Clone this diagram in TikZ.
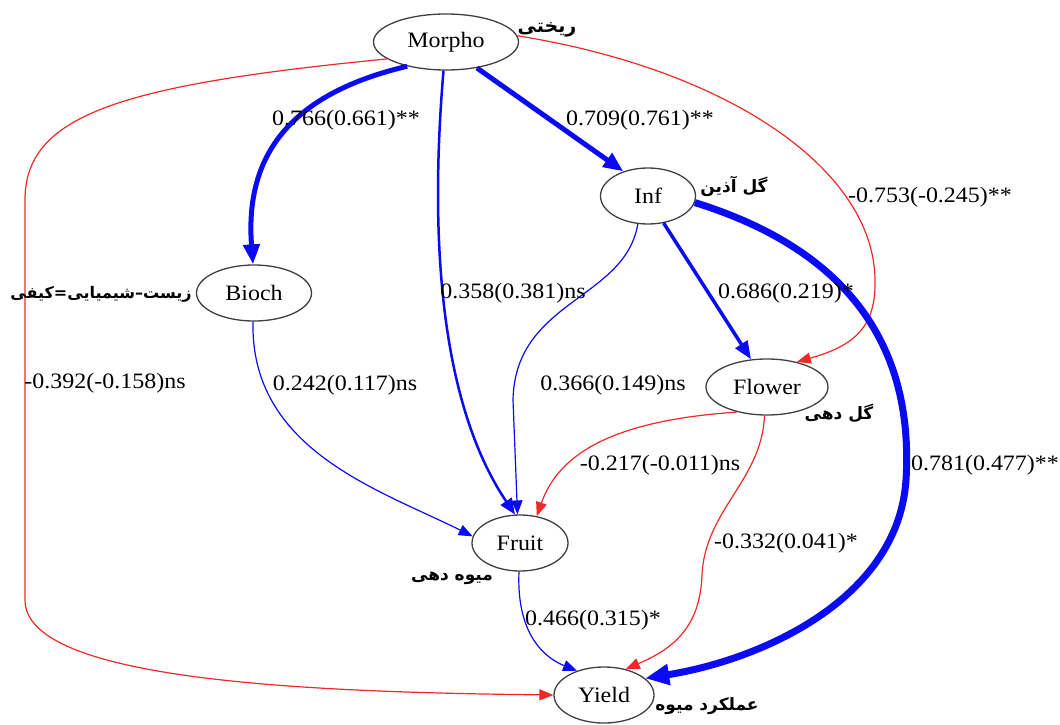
\documentclass[tikz,border=0pt]{standalone}
\usepackage{fontspec}
\setmainfont[FakeStretch=1.09]{Liberation Serif}
\newfontfamily\fafont[Script=Arabic]{DejaVu Sans}
\TeXXeTstate=1
\usetikzlibrary{shapes.geometric,arrows.meta}
\definecolor{eblue}{RGB}{10,10,245}
\definecolor{ered}{RGB}{240,40,40}
\tikzset{
  nd/.style={ellipse, draw=black!75, line width=1.3pt, fill=white, inner sep=0pt, minimum height=56pt, font=\fontsize{22}{26}\selectfont},
  lbl/.style={font=\fontsize{22}{26}\selectfont, inner sep=0pt},
  fa/.style={font=\fafont\bfseries\fontsize{17}{20}\selectfont, inner sep=0pt},
  bthin/.style={draw=eblue, line width=1.2pt, -{Triangle[length=14pt,width=11pt]}, color=eblue},
  bmed/.style={draw=eblue, line width=2.5pt, -{Triangle[length=16pt,width=13pt]}, color=eblue},
  bmed2/.style={draw=eblue, line width=3.5pt, -{Triangle[length=18pt,width=14pt]}, color=eblue},
  bthick/.style={draw=eblue, line width=5pt, -{Triangle[length=20pt,width=16pt]}, color=eblue},
  bvthick/.style={draw=eblue, line width=7pt, -{Triangle[length=24pt,width=20pt]}, color=eblue},
  rthin/.style={draw=ered, line width=1.2pt, -{Triangle[length=14pt,width=11pt]}, color=ered},
}
\begin{document}
\begin{tikzpicture}[x=1pt,y=-1pt]
\useasboundingbox (0,0) rectangle (1060,725);
% nodes
\node[nd, minimum width=145pt] (m) at (446,42) {Morpho};
\node[nd, minimum width=95pt] (i) at (648,196) {Inf};
\node[nd, minimum width=115pt] (b) at (254,293) {Bioch};
\node[nd, minimum width=122pt] (fl) at (767,387) {Flower};
\node[nd, minimum width=96pt] (f) at (520,543) {Fruit};
\node[nd, minimum width=100pt] (y) at (604,695) {Yield};
% edges
\draw[bthick] (m.212) .. controls (285,95) and (245,160) .. (b.92);
\draw[bmed] (m.265) .. controls (430,230) and (438,400) .. (f.100);
\draw[bthick] (m.-40) -- (i.135);
\draw[rthin] (m.5) .. controls (730,70) and (874,170) .. (875,280) .. controls (876,325) and (857,345) .. (fl.40);
\draw[rthin] (m.196) .. controls (120,85) and (25,115) .. (25,200) -- (25,600) .. controls (25,680) and (300,692) .. (y.180);
\draw[bmed2] (i.-60) -- (fl.120);
\draw[bthin] (i.250) .. controls (625,300) and (515,300) .. (513,400) -- (f.95);
\draw[bvthick] (i.-8) .. controls (880,260) and (912,380) .. (906,480) .. controls (898,600) and (760,660) .. (y.22);
\draw[bthin] (b.268) .. controls (250,450) and (380,490) .. (f.172);
\draw[rthin] (fl.220) .. controls (620,420) and (560,450) .. (f.58);
\draw[rthin] (fl.265) .. controls (762,480) and (705,510) .. (702,575) .. controls (700,630) and (670,650) .. (y.50);
\draw[bthin] (f.268) .. controls (516,640) and (550,660) .. (y.138);
% edge labels
\node[lbl] (l1) at (346,120) {0.766(0.661)**};
\node[lbl] (l2) at (513,293) {0.358(0.381)ns};
\node[lbl] (l3) at (640,120) {0.709(0.761)**};
\node[lbl] (l4) at (930,197) {-0.753(-0.245)**};
\node[lbl] (l5) at (105,383) {-0.392(-0.158)ns};
\node[lbl] (l6) at (786,293) {0.686(0.219)*};
\node[lbl] (l7) at (613,385) {0.366(0.149)ns};
\node[lbl] (l8) at (985,465) {0.781(0.477)**};
\node[lbl] (l9) at (345,385) {0.242(0.117)ns};
\node[lbl] (l10) at (660,465) {-0.217(-0.011)ns};
\node[lbl] (l11) at (786,543) {-0.332(0.041)*};
\node[lbl] (l12) at (593,620) {0.466(0.315)*};
% persian labels
\node[fa, font=\fafont\bfseries\fontsize{19}{22}\selectfont] (tm) at (547,30) {\beginR ریختی\endR};
\node[fa] (ti) at (734,186) {\beginR گل آذین\endR};
\node[fa, font=\fafont\bfseries\fontsize{16}{19}\selectfont] (tb) at (101,294) {\beginR زیست–شیمیایی=کیفی\endR};
\node[fa] (tfl) at (839,413) {\beginR گل دهی\endR};
\node[fa] (tf) at (452,578) {\beginR میوه دهی\endR};
\node[fa] (ty) at (707,706) {\beginR عملکرد میوه\endR};
\end{tikzpicture}
\end{document}
